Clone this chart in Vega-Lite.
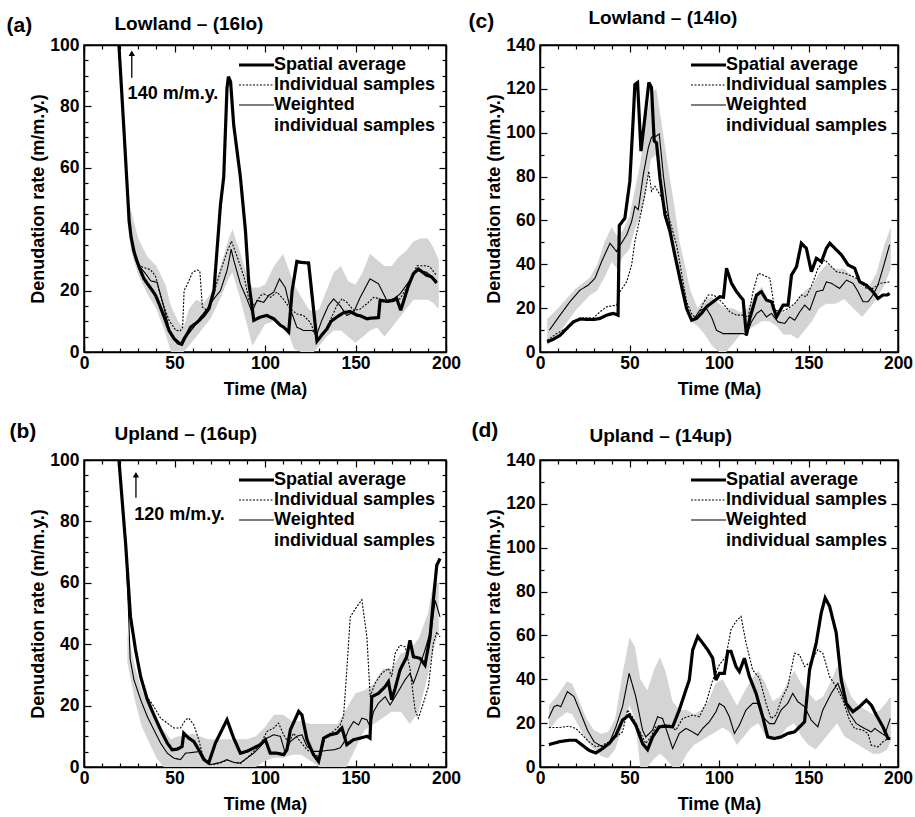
{
"$schema": "https://vega.github.io/schema/vega-lite/v6.json",
"background": "white",
"padding": {"left": 5, "top": 7, "right": 0, "bottom": 5},
"config": {
  "view": {"stroke": "black", "strokeWidth": 1.5},
  "font": "Liberation Sans",
  "axis": {"grid": false, "domainColor": "black", "domainWidth": 1.5, "tickColor": "black", "tickWidth": 1.2, "labelColor": "black", "titleColor": "black", "labelFont": "Liberation Sans", "titleFont": "Liberation Sans", "labelFontSize": 17.5, "titleFontSize": 18, "labelFontWeight": "bold", "titleFontWeight": "bold", "labelFlush": false, "labelOverlap": false},
  "legend": {"orient": "top-right", "offset": 10, "padding": 0, "titleOrient": "bottom", "titleAnchor": "end", "titleFont": "Liberation Sans", "titleFontSize": 18, "titleFontWeight": "bold", "titleColor": "black", "titlePadding": 2, "titleLimit": 400, "labelFont": "Liberation Sans", "labelFontSize": 18, "labelFontWeight": "bold", "labelColor": "black", "labelLimit": 400, "labelOffset": -2, "symbolType": "stroke", "symbolSize": 1225, "symbolStrokeColor": "black", "clipHeight": 20, "rowPadding": 0}
},
"datasets": {
"a_lines": [
{"series":"S","time":19.3,"rate":100},{"series":"S","time":22.2,"rate":71},{"series":"S","time":24.9,"rate":43},{"series":"S","time":26,"rate":37.5},{"series":"S","time":27.5,"rate":33},{"series":"S","time":29,"rate":30},{"series":"S","time":30.5,"rate":27.6},{"series":"S","time":33,"rate":24},{"series":"S","time":35.1,"rate":22.2},{"series":"S","time":37.8,"rate":20},{"series":"S","time":39.5,"rate":18.5},{"series":"S","time":41.5,"rate":15.7},{"series":"S","time":44.3,"rate":11.4},{"series":"S","time":47,"rate":7},{"series":"S","time":49.8,"rate":4.3},{"series":"S","time":52.5,"rate":2.9},{"series":"S","time":54,"rate":2.6},{"series":"S","time":55.3,"rate":4.3},{"series":"S","time":57.1,"rate":6},{"series":"S","time":59,"rate":8.1},{"series":"S","time":62.6,"rate":9.7},{"series":"S","time":66.3,"rate":11.9},{"series":"S","time":69,"rate":14.1},{"series":"S","time":71.8,"rate":20},{"series":"S","time":75.4,"rate":48},{"series":"S","time":77.2,"rate":57},{"series":"S","time":79,"rate":86},{"series":"S","time":79.8,"rate":89.7},{"series":"S","time":81,"rate":88},{"series":"S","time":82.7,"rate":74},{"series":"S","time":86.4,"rate":57},{"series":"S","time":89.2,"rate":39.5},{"series":"S","time":91,"rate":23},{"series":"S","time":93.8,"rate":10.3},{"series":"S","time":97.5,"rate":11.4},{"series":"S","time":101,"rate":11.9},{"series":"S","time":104.9,"rate":10.8},{"series":"S","time":108.5,"rate":8.7},{"series":"S","time":110.5,"rate":8},{"series":"S","time":113.1,"rate":6.5},{"series":"S","time":115,"rate":20},{"series":"S","time":117.6,"rate":29.5},{"series":"S","time":119.5,"rate":29.2},{"series":"S","time":124.1,"rate":29},{"series":"S","time":128.7,"rate":3.5},{"series":"S","time":132,"rate":6},{"series":"S","time":134.2,"rate":7.5},{"series":"S","time":136.5,"rate":10},{"series":"S","time":139.7,"rate":11.4},{"series":"S","time":143.4,"rate":12.8},{"series":"S","time":147,"rate":13.2},{"series":"S","time":150.8,"rate":12},{"series":"S","time":152.6,"rate":11.8},{"series":"S","time":156.3,"rate":10.8},{"series":"S","time":158,"rate":11},{"series":"S","time":162.7,"rate":11.2},{"series":"S","time":163.6,"rate":16.8},{"series":"S","time":168,"rate":16.5},{"series":"S","time":171,"rate":16.8},{"series":"S","time":172.7,"rate":17.5},{"series":"S","time":175,"rate":13.6},{"series":"S","time":179.2,"rate":21.5},{"series":"S","time":182,"rate":25.5},{"series":"S","time":184.7,"rate":27},{"series":"S","time":186,"rate":26.5},{"series":"S","time":189.3,"rate":25},{"series":"S","time":192,"rate":24.5},{"series":"S","time":194.8,"rate":22.5},
{"series":"I","time":19.3,"rate":100},{"series":"I","time":22.2,"rate":71},{"series":"I","time":24.9,"rate":43},{"series":"I","time":26,"rate":37},{"series":"I","time":28,"rate":32},{"series":"I","time":30.5,"rate":28.5},{"series":"I","time":32.3,"rate":27.6},{"series":"I","time":36,"rate":27},{"series":"I","time":38,"rate":26},{"series":"I","time":39.7,"rate":24.4},{"series":"I","time":41.5,"rate":20},{"series":"I","time":44.3,"rate":14.6},{"series":"I","time":47,"rate":10.3},{"series":"I","time":50.7,"rate":7.1},{"series":"I","time":53,"rate":6.8},{"series":"I","time":54.5,"rate":8},{"series":"I","time":55.3,"rate":20},{"series":"I","time":57.1,"rate":22},{"series":"I","time":59.9,"rate":25.9},{"series":"I","time":62.6,"rate":26.7},{"series":"I","time":64,"rate":26.4},{"series":"I","time":65.4,"rate":14.6},{"series":"I","time":68.2,"rate":13.5},{"series":"I","time":70,"rate":15.7},{"series":"I","time":72.7,"rate":21},{"series":"I","time":75.4,"rate":26.4},{"series":"I","time":79.2,"rate":32.9},{"series":"I","time":81.5,"rate":36.1},{"series":"I","time":84.8,"rate":30.7},{"series":"I","time":88.5,"rate":24.3},{"series":"I","time":91.2,"rate":16.8},{"series":"I","time":94,"rate":15.2},{"series":"I","time":97.6,"rate":18.4},{"series":"I","time":99.3,"rate":18.9},{"series":"I","time":103,"rate":17.8},{"series":"I","time":106.6,"rate":19.5},{"series":"I","time":110,"rate":17.3},{"series":"I","time":114,"rate":14},{"series":"I","time":117.6,"rate":12.4},{"series":"I","time":121.3,"rate":11.9},{"series":"I","time":125,"rate":9.7},{"series":"I","time":128.7,"rate":4.3},{"series":"I","time":132.4,"rate":5.9},{"series":"I","time":136,"rate":10.3},{"series":"I","time":139.7,"rate":15.1},{"series":"I","time":142.5,"rate":17.3},{"series":"I","time":145.2,"rate":16.2},{"series":"I","time":149,"rate":13.5},{"series":"I","time":152.6,"rate":14},{"series":"I","time":156.3,"rate":15.7},{"series":"I","time":160,"rate":17.8},{"series":"I","time":163.6,"rate":17.3},{"series":"I","time":167.3,"rate":16.2},{"series":"I","time":171,"rate":17.3},{"series":"I","time":174.6,"rate":17.3},{"series":"I","time":178.3,"rate":21},{"series":"I","time":184,"rate":28.1},{"series":"I","time":188.4,"rate":28.1},{"series":"I","time":191,"rate":27.8},{"series":"I","time":194.8,"rate":24.9},
{"series":"W","time":19.3,"rate":100},{"series":"W","time":22.2,"rate":71},{"series":"W","time":24.9,"rate":43},{"series":"W","time":26,"rate":37},{"series":"W","time":28,"rate":32},{"series":"W","time":30.5,"rate":28},{"series":"W","time":34.3,"rate":25.3},{"series":"W","time":36.8,"rate":23.2},{"series":"W","time":40.4,"rate":22.7},{"series":"W","time":44.1,"rate":14.6},{"series":"W","time":47.8,"rate":5.9},{"series":"W","time":51.5,"rate":2.7},{"series":"W","time":54.2,"rate":2.2},{"series":"W","time":57,"rate":5.4},{"series":"W","time":60.7,"rate":8.1},{"series":"W","time":64.3,"rate":11.4},{"series":"W","time":68,"rate":14},{"series":"W","time":71.7,"rate":17.3},{"series":"W","time":75.4,"rate":20},{"series":"W","time":79,"rate":26.5},{"series":"W","time":80.2,"rate":30},{"series":"W","time":81.3,"rate":33.5},{"series":"W","time":82.7,"rate":30},{"series":"W","time":86.4,"rate":22.2},{"series":"W","time":90,"rate":17.3},{"series":"W","time":92.8,"rate":13},{"series":"W","time":95.6,"rate":16.8},{"series":"W","time":99.3,"rate":16.2},{"series":"W","time":102,"rate":18.4},{"series":"W","time":104.8,"rate":19.5},{"series":"W","time":108,"rate":23.8},{"series":"W","time":111.2,"rate":21},{"series":"W","time":114,"rate":14},{"series":"W","time":117.6,"rate":8.1},{"series":"W","time":121.3,"rate":7},{"series":"W","time":126,"rate":7},{"series":"W","time":128.7,"rate":5.9},{"series":"W","time":131.4,"rate":10.3},{"series":"W","time":135,"rate":15.1},{"series":"W","time":137.9,"rate":17.3},{"series":"W","time":141.5,"rate":15.1},{"series":"W","time":145.2,"rate":11.9},{"series":"W","time":149,"rate":13},{"series":"W","time":152.6,"rate":17.8},{"series":"W","time":158,"rate":23.8},{"series":"W","time":162.7,"rate":22.2},{"series":"W","time":167.3,"rate":16.8},{"series":"W","time":171,"rate":17.3},{"series":"W","time":174.6,"rate":18.9},{"series":"W","time":179.2,"rate":22.7},{"series":"W","time":183.8,"rate":26.5},{"series":"W","time":189.3,"rate":26},{"series":"W","time":194.8,"rate":23.2}
],
"a_band": [
{"time":24,"low":42,"high":52},{"time":26,"low":33,"high":46},{"time":30,"low":25,"high":37},{"time":35,"low":19,"high":31},{"time":40,"low":14,"high":28},{"time":45,"low":6,"high":22},{"time":48,"low":0,"high":15},{"time":52,"low":0,"high":10},{"time":55,"low":0,"high":8},{"time":58,"low":2,"high":14},{"time":62,"low":5,"high":17},{"time":66,"low":8,"high":16},{"time":70,"low":11,"high":19},{"time":75,"low":17,"high":27},{"time":80,"low":24,"high":37},{"time":82,"low":26,"high":40},{"time":86,"low":18,"high":33},{"time":90,"low":9,"high":25},{"time":93,"low":2,"high":21},{"time":97,"low":6,"high":21},{"time":100,"low":9,"high":22},{"time":105,"low":10,"high":28},{"time":110,"low":9,"high":32},{"time":113,"low":6,"high":27},{"time":116,"low":1,"high":22},{"time":120,"low":0,"high":18},{"time":124,"low":0,"high":14},{"time":127,"low":0,"high":13},{"time":130,"low":2,"high":14},{"time":134,"low":5,"high":20},{"time":138,"low":7,"high":26},{"time":142,"low":7,"high":28},{"time":146,"low":5,"high":23},{"time":150,"low":3,"high":22},{"time":154,"low":5,"high":26},{"time":158,"low":7,"high":32},{"time":162,"low":8,"high":30},{"time":166,"low":5,"high":28},{"time":170,"low":8,"high":28},{"time":174,"low":11,"high":31},{"time":178,"low":14,"high":33},{"time":182,"low":17,"high":36},{"time":186,"low":17,"high":37},{"time":190,"low":17,"high":37},{"time":193,"low":16,"high":34},{"time":196,"low":14,"high":30}
],
"b_lines": [
{"series":"S","time":19.3,"rate":100},{"series":"S","time":23,"rate":72.7},{"series":"S","time":25.7,"rate":48.9},{"series":"S","time":28.5,"rate":38.1},{"series":"S","time":31.3,"rate":29.4},{"series":"S","time":34.9,"rate":22.1},{"series":"S","time":38.6,"rate":17},{"series":"S","time":42.3,"rate":12.1},{"series":"S","time":46,"rate":7.8},{"series":"S","time":48.7,"rate":5.6},{"series":"S","time":51.5,"rate":5.8},{"series":"S","time":54.2,"rate":6.7},{"series":"S","time":55.1,"rate":11},{"series":"S","time":57.9,"rate":9.4},{"series":"S","time":60.7,"rate":8.3},{"series":"S","time":63.4,"rate":5.6},{"series":"S","time":66.2,"rate":2.4},{"series":"S","time":68.9,"rate":1.3},{"series":"S","time":72.6,"rate":7.8},{"series":"S","time":79,"rate":15.4},{"series":"S","time":82.7,"rate":9.4},{"series":"S","time":86.4,"rate":4.5},{"series":"S","time":90,"rate":5.1},{"series":"S","time":93.8,"rate":6.2},{"series":"S","time":97.4,"rate":7.3},{"series":"S","time":100.2,"rate":8.9},{"series":"S","time":102.9,"rate":4.5},{"series":"S","time":106.6,"rate":4.5},{"series":"S","time":110.3,"rate":4},{"series":"S","time":112.1,"rate":5.6},{"series":"S","time":114,"rate":12.1},{"series":"S","time":118.6,"rate":18.1},{"series":"S","time":120.4,"rate":17},{"series":"S","time":123.2,"rate":8.9},{"series":"S","time":126.8,"rate":4},{"series":"S","time":129.6,"rate":1.8},{"series":"S","time":132.4,"rate":9.4},{"series":"S","time":136,"rate":10.5},{"series":"S","time":139.7,"rate":11},{"series":"S","time":142.5,"rate":12.7},{"series":"S","time":145.2,"rate":7.3},{"series":"S","time":148.9,"rate":8.9},{"series":"S","time":152.6,"rate":9.4},{"series":"S","time":156.3,"rate":10},{"series":"S","time":158,"rate":9.4},{"series":"S","time":159,"rate":22.9},{"series":"S","time":162.7,"rate":24},{"series":"S","time":166.4,"rate":26.2},{"series":"S","time":168.2,"rate":27.8},{"series":"S","time":170,"rate":21.9},{"series":"S","time":171.9,"rate":25.6},{"series":"S","time":174.6,"rate":31.6},{"series":"S","time":178.3,"rate":35.9},{"series":"S","time":180.1,"rate":41.3},{"series":"S","time":182,"rate":35.9},{"series":"S","time":185.7,"rate":35.4},{"series":"S","time":188.4,"rate":33.2},{"series":"S","time":191.2,"rate":42.4},{"series":"S","time":193,"rate":54.3},{"series":"S","time":194.9,"rate":65.7},{"series":"S","time":196.7,"rate":67.9},
{"series":"I","time":19.3,"rate":100},{"series":"I","time":23,"rate":72},{"series":"I","time":25.7,"rate":49},{"series":"I","time":28.5,"rate":38},{"series":"I","time":31.3,"rate":30},{"series":"I","time":34.9,"rate":22.9},{"series":"I","time":38.6,"rate":19.7},{"series":"I","time":42.3,"rate":15.9},{"series":"I","time":46,"rate":14.3},{"series":"I","time":49.6,"rate":12.7},{"series":"I","time":53.3,"rate":12.7},{"series":"I","time":56.1,"rate":15.4},{"series":"I","time":57.9,"rate":15.9},{"series":"I","time":60.7,"rate":13.7},{"series":"I","time":63.4,"rate":8.9},{"series":"I","time":66.2,"rate":2.4},{"series":"I","time":68.9,"rate":0.8},{"series":"I","time":71.7,"rate":0.8},{"series":"I","time":75.4,"rate":1.3},{"series":"I","time":79,"rate":2.2},{"series":"I","time":82.7,"rate":1.5},{"series":"I","time":86.4,"rate":1.1},{"series":"I","time":90,"rate":2.9},{"series":"I","time":93.8,"rate":5.1},{"series":"I","time":97.4,"rate":7.3},{"series":"I","time":101.1,"rate":11.6},{"series":"I","time":104.8,"rate":12.7},{"series":"I","time":107.5,"rate":14.3},{"series":"I","time":110.3,"rate":10.5},{"series":"I","time":113,"rate":7.8},{"series":"I","time":115.8,"rate":11},{"series":"I","time":119.5,"rate":8.3},{"series":"I","time":123.2,"rate":5.6},{"series":"I","time":126.8,"rate":4.5},{"series":"I","time":130.5,"rate":2.9},{"series":"I","time":133.3,"rate":10},{"series":"I","time":137.9,"rate":11.6},{"series":"I","time":141.5,"rate":13.7},{"series":"I","time":143.4,"rate":16.5},{"series":"I","time":145.2,"rate":31.6},{"series":"I","time":147.1,"rate":48.9},{"series":"I","time":150.7,"rate":52.2},{"series":"I","time":153.5,"rate":54.5},{"series":"I","time":156.3,"rate":42.4},{"series":"I","time":158.1,"rate":22.9},{"series":"I","time":160.8,"rate":27.3},{"series":"I","time":164.5,"rate":30.5},{"series":"I","time":168.2,"rate":32.1},{"series":"I","time":170,"rate":29.4},{"series":"I","time":171.9,"rate":37},{"series":"I","time":174.6,"rate":39.7},{"series":"I","time":177.4,"rate":39.2},{"series":"I","time":180.1,"rate":32.1},{"series":"I","time":182.9,"rate":18.6},{"series":"I","time":184.7,"rate":15.9},{"series":"I","time":187.5,"rate":20.8},{"series":"I","time":190.3,"rate":26.2},{"series":"I","time":193,"rate":40.3},{"series":"I","time":194.9,"rate":44},{"series":"I","time":196.7,"rate":42.4},
{"series":"W","time":19.3,"rate":100},{"series":"W","time":23,"rate":72},{"series":"W","time":24.5,"rate":52},{"series":"W","time":25.5,"rate":35.2},{"series":"W","time":27.6,"rate":28.4},{"series":"W","time":31.3,"rate":21.9},{"series":"W","time":34.9,"rate":16.5},{"series":"W","time":38.6,"rate":12.1},{"series":"W","time":42.3,"rate":7.8},{"series":"W","time":46,"rate":4.5},{"series":"W","time":49.6,"rate":2.9},{"series":"W","time":53.3,"rate":2.4},{"series":"W","time":56.1,"rate":4.5},{"series":"W","time":60.7,"rate":4.8},{"series":"W","time":64.3,"rate":5.1},{"series":"W","time":67.1,"rate":2.4},{"series":"W","time":69.9,"rate":0.8},{"series":"W","time":75.4,"rate":1.5},{"series":"W","time":79,"rate":2.4},{"series":"W","time":82.7,"rate":1.5},{"series":"W","time":86.4,"rate":1.3},{"series":"W","time":90,"rate":2.9},{"series":"W","time":93.8,"rate":4.5},{"series":"W","time":97.4,"rate":6.7},{"series":"W","time":101.1,"rate":9.4},{"series":"W","time":104.8,"rate":10.5},{"series":"W","time":108.5,"rate":10},{"series":"W","time":111.2,"rate":4.5},{"series":"W","time":114,"rate":8.3},{"series":"W","time":117.6,"rate":10},{"series":"W","time":120.4,"rate":10.5},{"series":"W","time":123.2,"rate":6.7},{"series":"W","time":126.8,"rate":5.1},{"series":"W","time":130.5,"rate":5.1},{"series":"W","time":134.2,"rate":5.4},{"series":"W","time":137.9,"rate":5.6},{"series":"W","time":141.5,"rate":6.2},{"series":"W","time":143.4,"rate":7.8},{"series":"W","time":146.1,"rate":12.1},{"series":"W","time":148.9,"rate":14.8},{"series":"W","time":151.7,"rate":13.7},{"series":"W","time":153.5,"rate":15.9},{"series":"W","time":156.3,"rate":15.4},{"series":"W","time":158,"rate":13.2},{"series":"W","time":160,"rate":18.1},{"series":"W","time":162.7,"rate":20.8},{"series":"W","time":166.4,"rate":22.9},{"series":"W","time":169.1,"rate":20.2},{"series":"W","time":171.9,"rate":22.9},{"series":"W","time":174.6,"rate":25.6},{"series":"W","time":177.4,"rate":28.4},{"series":"W","time":180.1,"rate":30.5},{"series":"W","time":182,"rate":27.3},{"series":"W","time":184.7,"rate":31.6},{"series":"W","time":188.4,"rate":38.1},{"series":"W","time":192.1,"rate":45.7},{"series":"W","time":194,"rate":54.3},{"series":"W","time":196.7,"rate":48.9}
],
"b_band": [
{"time":24,"low":34,"high":44},{"time":28,"low":22,"high":33},{"time":32,"low":13,"high":25},{"time":36,"low":8,"high":20},{"time":40,"low":3,"high":16},{"time":44,"low":0,"high":12},{"time":48,"low":0,"high":9},{"time":52,"low":0,"high":10},{"time":56,"low":0,"high":10},{"time":60,"low":0,"high":11},{"time":64,"low":0,"high":10},{"time":68,"low":0,"high":9},{"time":72,"low":0,"high":9},{"time":80,"low":0,"high":9},{"time":90,"low":0,"high":9},{"time":95,"low":0,"high":10},{"time":100,"low":2,"high":13},{"time":105,"low":3,"high":17},{"time":110,"low":3,"high":17},{"time":115,"low":4,"high":15},{"time":120,"low":4,"high":15},{"time":125,"low":2,"high":14},{"time":130,"low":0,"high":14},{"time":135,"low":0,"high":14},{"time":140,"low":0,"high":14},{"time":145,"low":0,"high":19},{"time":150,"low":6,"high":24},{"time":155,"low":12,"high":25},{"time":160,"low":14,"high":27},{"time":165,"low":16,"high":32},{"time":170,"low":18,"high":32},{"time":175,"low":18,"high":37},{"time":180,"low":14,"high":38},{"time":185,"low":18,"high":42},{"time":190,"low":30,"high":50},{"time":193,"low":38,"high":60},{"time":196,"low":44,"high":60}
],
"c_lines": [
{"series":"S","time":4,"rate":4.6},{"series":"S","time":7.4,"rate":5.8},{"series":"S","time":11.2,"rate":7.6},{"series":"S","time":14.9,"rate":10.7},{"series":"S","time":18.6,"rate":13.7},{"series":"S","time":22.3,"rate":15},{"series":"S","time":29.8,"rate":14.8},{"series":"S","time":33.5,"rate":15.3},{"series":"S","time":37.2,"rate":16.8},{"series":"S","time":40.9,"rate":17.6},{"series":"S","time":43.6,"rate":16.8},{"series":"S","time":44.3,"rate":57.7},{"series":"S","time":47.4,"rate":61},{"series":"S","time":50.2,"rate":77.9},{"series":"S","time":52.1,"rate":106.9},{"series":"S","time":53,"rate":122},{"series":"S","time":54.5,"rate":122.9},{"series":"S","time":56.4,"rate":91.6},{"series":"S","time":58.6,"rate":106.9},{"series":"S","time":60.8,"rate":122.9},{"series":"S","time":62.3,"rate":120.6},{"series":"S","time":63.8,"rate":96.2},{"series":"S","time":65.1,"rate":95.4},{"series":"S","time":67,"rate":79.4},{"series":"S","time":69.8,"rate":62.6},{"series":"S","time":72.6,"rate":55},{"series":"S","time":75.3,"rate":44.3},{"series":"S","time":78.1,"rate":33.6},{"series":"S","time":81.9,"rate":19.8},{"series":"S","time":84.7,"rate":14.5},{"series":"S","time":87.4,"rate":15.3},{"series":"S","time":90.2,"rate":17.6},{"series":"S","time":93,"rate":20.6},{"series":"S","time":96.7,"rate":22.9},{"series":"S","time":100.5,"rate":25.2},{"series":"S","time":102.5,"rate":25},{"series":"S","time":104.2,"rate":38.2},{"series":"S","time":107,"rate":31.3},{"series":"S","time":109.8,"rate":27.5},{"series":"S","time":113.5,"rate":23.7},{"series":"S","time":115.3,"rate":7.6},{"series":"S","time":117.2,"rate":15.3},{"series":"S","time":121,"rate":26},{"series":"S","time":123.7,"rate":27.5},{"series":"S","time":126.5,"rate":23.7},{"series":"S","time":129.3,"rate":22.9},{"series":"S","time":132.1,"rate":16},{"series":"S","time":135.8,"rate":21.4},{"series":"S","time":138.6,"rate":21.4},{"series":"S","time":140.5,"rate":35.1},{"series":"S","time":143.3,"rate":38.9},{"series":"S","time":146,"rate":49.6},{"series":"S","time":148.8,"rate":47.3},{"series":"S","time":151.6,"rate":36.6},{"series":"S","time":154.4,"rate":42.7},{"series":"S","time":157.2,"rate":41.2},{"series":"S","time":160,"rate":47.3},{"series":"S","time":161.9,"rate":49.6},{"series":"S","time":164.7,"rate":47.3},{"series":"S","time":168.4,"rate":44.3},{"series":"S","time":172.1,"rate":39.7},{"series":"S","time":175.8,"rate":38.2},{"series":"S","time":178.6,"rate":32},{"series":"S","time":182.3,"rate":30.5},{"series":"S","time":186,"rate":27.5},{"series":"S","time":188.8,"rate":24.4},{"series":"S","time":191.6,"rate":26},{"series":"S","time":194,"rate":26},{"series":"S","time":195.3,"rate":26.7},
{"series":"I","time":4,"rate":5.3},{"series":"I","time":9.3,"rate":8.4},{"series":"I","time":14.9,"rate":11},{"series":"I","time":18.6,"rate":14},{"series":"I","time":22.3,"rate":15.5},{"series":"I","time":29.8,"rate":15.5},{"series":"I","time":33.5,"rate":18.3},{"series":"I","time":37.2,"rate":20.6},{"series":"I","time":42.8,"rate":21.4},{"series":"I","time":44.7,"rate":27.5},{"series":"I","time":48.4,"rate":32},{"series":"I","time":51.2,"rate":39.7},{"series":"I","time":53,"rate":50.4},{"series":"I","time":55.8,"rate":61},{"series":"I","time":58.6,"rate":71.8},{"series":"I","time":60.8,"rate":82.4},{"series":"I","time":62.3,"rate":73.3},{"series":"I","time":64.2,"rate":75.6},{"series":"I","time":67,"rate":71.8},{"series":"I","time":69.8,"rate":65.6},{"series":"I","time":72.6,"rate":59.5},{"series":"I","time":76.3,"rate":48.9},{"series":"I","time":81.9,"rate":22.9},{"series":"I","time":85,"rate":17},{"series":"I","time":88,"rate":15},{"series":"I","time":91,"rate":22},{"series":"I","time":94,"rate":26},{"series":"I","time":97,"rate":26},{"series":"I","time":100,"rate":24},{"series":"I","time":102.3,"rate":22.1},{"series":"I","time":106,"rate":18.3},{"series":"I","time":109.8,"rate":16.8},{"series":"I","time":113.5,"rate":16.8},{"series":"I","time":116.3,"rate":16},{"series":"I","time":119,"rate":27.5},{"series":"I","time":121.9,"rate":35.9},{"series":"I","time":124.7,"rate":35.1},{"series":"I","time":128.4,"rate":33.6},{"series":"I","time":131.2,"rate":19.1},{"series":"I","time":134.9,"rate":18.3},{"series":"I","time":138.6,"rate":19.8},{"series":"I","time":142.3,"rate":22.1},{"series":"I","time":146,"rate":26},{"series":"I","time":148.8,"rate":25.2},{"series":"I","time":152.6,"rate":32},{"series":"I","time":155.3,"rate":38.2},{"series":"I","time":159.1,"rate":42},{"series":"I","time":161.9,"rate":39.7},{"series":"I","time":165.6,"rate":36.6},{"series":"I","time":170.2,"rate":35.9},{"series":"I","time":174.9,"rate":34.4},{"series":"I","time":178.6,"rate":32.8},{"series":"I","time":182.3,"rate":29},{"series":"I","time":186,"rate":29},{"series":"I","time":189.8,"rate":31.3},{"series":"I","time":195.3,"rate":32},
{"series":"W","time":5.2,"rate":9.9},{"series":"W","time":11.2,"rate":16.8},{"series":"W","time":16.7,"rate":22.9},{"series":"W","time":22.3,"rate":28.2},{"series":"W","time":27,"rate":30.5},{"series":"W","time":30.7,"rate":33.6},{"series":"W","time":34.4,"rate":41.2},{"series":"W","time":39.1,"rate":49.6},{"series":"W","time":42.8,"rate":45.8},{"series":"W","time":44.3,"rate":48.1},{"series":"W","time":48.4,"rate":53.4},{"series":"W","time":51.2,"rate":59.5},{"series":"W","time":53,"rate":66.4},{"series":"W","time":54.9,"rate":64.9},{"series":"W","time":57.7,"rate":80.9},{"series":"W","time":60.5,"rate":93.1},{"series":"W","time":62.3,"rate":98},{"series":"W","time":65.1,"rate":98.5},{"series":"W","time":66.6,"rate":99.5},{"series":"W","time":69,"rate":80},{"series":"W","time":72.3,"rate":59},{"series":"W","time":75.3,"rate":45},{"series":"W","time":78.1,"rate":35},{"series":"W","time":82.8,"rate":17.6},{"series":"W","time":85.6,"rate":14.5},{"series":"W","time":89.3,"rate":19.1},{"series":"W","time":93,"rate":19.8},{"series":"W","time":95.8,"rate":16},{"series":"W","time":98.6,"rate":9.9},{"series":"W","time":102.3,"rate":8.4},{"series":"W","time":107.9,"rate":8.4},{"series":"W","time":113.5,"rate":8.4},{"series":"W","time":115.3,"rate":7.6},{"series":"W","time":118.1,"rate":13.7},{"series":"W","time":121,"rate":17.6},{"series":"W","time":123.7,"rate":19.1},{"series":"W","time":126.5,"rate":16},{"series":"W","time":129.3,"rate":17.6},{"series":"W","time":133,"rate":13.7},{"series":"W","time":136.7,"rate":13},{"series":"W","time":139.5,"rate":16},{"series":"W","time":142.3,"rate":14.5},{"series":"W","time":145.1,"rate":18.3},{"series":"W","time":147.9,"rate":21.4},{"series":"W","time":150.7,"rate":19.1},{"series":"W","time":154.4,"rate":27.5},{"series":"W","time":158.1,"rate":28.2},{"series":"W","time":160,"rate":32},{"series":"W","time":162.8,"rate":31.3},{"series":"W","time":167.4,"rate":29},{"series":"W","time":171.2,"rate":32.8},{"series":"W","time":174.9,"rate":31.3},{"series":"W","time":177.7,"rate":27.5},{"series":"W","time":180.5,"rate":22.9},{"series":"W","time":183.3,"rate":22.9},{"series":"W","time":186,"rate":26},{"series":"W","time":188.8,"rate":30.5},{"series":"W","time":191.6,"rate":38.2},{"series":"W","time":195.3,"rate":48.9}
],
"c_band": [
{"time":4,"low":3,"high":15},{"time":10,"low":8,"high":20},{"time":20,"low":19,"high":29},{"time":28,"low":26,"high":34},{"time":32,"low":28,"high":40},{"time":36,"low":34,"high":50},{"time":40,"low":41,"high":57},{"time":43,"low":38,"high":53},{"time":46,"low":43,"high":55},{"time":50,"low":47,"high":62},{"time":53,"low":56,"high":74},{"time":56,"low":62,"high":86},{"time":59,"low":72,"high":105},{"time":62,"low":88,"high":118},{"time":65,"low":90,"high":120},{"time":68,"low":76,"high":104},{"time":72,"low":58,"high":82},{"time":75,"low":48,"high":67},{"time":78,"low":36,"high":50},{"time":80,"low":30,"high":43},{"time":84,"low":14,"high":28},{"time":88,"low":12,"high":20},{"time":92,"low":8,"high":24},{"time":96,"low":3,"high":25},{"time":100,"low":0,"high":22},{"time":104,"low":0,"high":20},{"time":108,"low":4,"high":20},{"time":112,"low":8,"high":18},{"time":116,"low":10,"high":20},{"time":120,"low":12,"high":26},{"time":124,"low":14,"high":30},{"time":128,"low":14,"high":22},{"time":132,"low":12,"high":18},{"time":136,"low":8,"high":18},{"time":140,"low":8,"high":20},{"time":144,"low":6,"high":24},{"time":148,"low":10,"high":28},{"time":152,"low":14,"high":30},{"time":156,"low":20,"high":36},{"time":160,"low":22,"high":40},{"time":165,"low":22,"high":38},{"time":170,"low":24,"high":38},{"time":175,"low":20,"high":34},{"time":180,"low":16,"high":32},{"time":184,"low":20,"high":30},{"time":188,"low":24,"high":36},{"time":192,"low":30,"high":48},{"time":196,"low":38,"high":57}
],
"d_lines": [
{"series":"S","time":5,"rate":10.2},{"series":"S","time":10.6,"rate":11.5},{"series":"S","time":16.2,"rate":12.2},{"series":"S","time":20,"rate":12.2},{"series":"S","time":23.7,"rate":9.9},{"series":"S","time":27.4,"rate":7.6},{"series":"S","time":31.2,"rate":6.4},{"series":"S","time":34.9,"rate":8.4},{"series":"S","time":38.6,"rate":10.7},{"series":"S","time":42.4,"rate":14.5},{"series":"S","time":46.1,"rate":21.4},{"series":"S","time":49.8,"rate":23.7},{"series":"S","time":53.5,"rate":19.1},{"series":"S","time":57.3,"rate":10.7},{"series":"S","time":60.1,"rate":7.9},{"series":"S","time":62.9,"rate":13.7},{"series":"S","time":66.6,"rate":18.3},{"series":"S","time":70.3,"rate":18.6},{"series":"S","time":74.1,"rate":18.3},{"series":"S","time":77.8,"rate":26},{"series":"S","time":81.5,"rate":35.1},{"series":"S","time":83.4,"rate":39.7},{"series":"S","time":85.3,"rate":53.4},{"series":"S","time":88.1,"rate":59.5},{"series":"S","time":90.9,"rate":56.5},{"series":"S","time":93.7,"rate":53.4},{"series":"S","time":96.5,"rate":49.6},{"series":"S","time":98.3,"rate":39.7},{"series":"S","time":100.2,"rate":42.7},{"series":"S","time":103,"rate":42.7},{"series":"S","time":104.9,"rate":52.7},{"series":"S","time":106.7,"rate":52.7},{"series":"S","time":109.5,"rate":45.8},{"series":"S","time":111.4,"rate":43.5},{"series":"S","time":114.2,"rate":49.6},{"series":"S","time":117,"rate":41.2},{"series":"S","time":120.7,"rate":33.6},{"series":"S","time":124.4,"rate":22.9},{"series":"S","time":127.2,"rate":13.7},{"series":"S","time":131,"rate":13},{"series":"S","time":134.7,"rate":13.7},{"series":"S","time":138.4,"rate":15.3},{"series":"S","time":142.2,"rate":16},{"series":"S","time":145,"rate":18.3},{"series":"S","time":147.8,"rate":20.6},{"series":"S","time":150.6,"rate":44.3},{"series":"S","time":154.3,"rate":56.5},{"series":"S","time":157.1,"rate":70.2},{"series":"S","time":159.3,"rate":77.1},{"series":"S","time":161.8,"rate":73.3},{"series":"S","time":165.5,"rate":61.1},{"series":"S","time":168.3,"rate":39.7},{"series":"S","time":171.1,"rate":29},{"series":"S","time":174.8,"rate":25.2},{"series":"S","time":178.5,"rate":27.5},{"series":"S","time":182.3,"rate":30.5},{"series":"S","time":185.1,"rate":28.2},{"series":"S","time":187.9,"rate":23.7},{"series":"S","time":191.6,"rate":18.3},{"series":"S","time":194.4,"rate":13},{"series":"S","time":195.7,"rate":13},
{"series":"I","time":5,"rate":18},{"series":"I","time":10.6,"rate":18},{"series":"I","time":16.2,"rate":18.6},{"series":"I","time":20,"rate":17.6},{"series":"I","time":23.7,"rate":14.5},{"series":"I","time":27.4,"rate":11.5},{"series":"I","time":31.2,"rate":9.2},{"series":"I","time":34.9,"rate":9.9},{"series":"I","time":38.6,"rate":11.5},{"series":"I","time":42.4,"rate":13.7},{"series":"I","time":46.1,"rate":16},{"series":"I","time":48.9,"rate":26},{"series":"I","time":51.7,"rate":22.9},{"series":"I","time":55.4,"rate":16.8},{"series":"I","time":59.1,"rate":10.7},{"series":"I","time":61.9,"rate":13.7},{"series":"I","time":64.7,"rate":18.3},{"series":"I","time":68.5,"rate":19.1},{"series":"I","time":72.2,"rate":19.1},{"series":"I","time":75.9,"rate":16.8},{"series":"I","time":79.7,"rate":22.1},{"series":"I","time":85.3,"rate":23.7},{"series":"I","time":89,"rate":22.9},{"series":"I","time":92.7,"rate":29},{"series":"I","time":96.5,"rate":39.7},{"series":"I","time":100.2,"rate":46.6},{"series":"I","time":103.9,"rate":50.4},{"series":"I","time":106.7,"rate":62.6},{"series":"I","time":109.5,"rate":66.4},{"series":"I","time":112.3,"rate":68.7},{"series":"I","time":115.1,"rate":56.5},{"series":"I","time":118.8,"rate":44.3},{"series":"I","time":122.6,"rate":40.5},{"series":"I","time":126.3,"rate":29},{"series":"I","time":129.1,"rate":22.1},{"series":"I","time":131.9,"rate":23.7},{"series":"I","time":134.7,"rate":30.5},{"series":"I","time":138.4,"rate":36.6},{"series":"I","time":142.2,"rate":51.9},{"series":"I","time":145,"rate":51.1},{"series":"I","time":147.8,"rate":45.8},{"series":"I","time":151.5,"rate":48.1},{"series":"I","time":155.2,"rate":53.4},{"series":"I","time":158,"rate":51.9},{"series":"I","time":161.8,"rate":41.2},{"series":"I","time":165.5,"rate":36.6},{"series":"I","time":169.2,"rate":30.5},{"series":"I","time":172.9,"rate":21.4},{"series":"I","time":175.7,"rate":17.6},{"series":"I","time":180.4,"rate":16.8},{"series":"I","time":183.2,"rate":15.3},{"series":"I","time":185.1,"rate":9.9},{"series":"I","time":188.8,"rate":9.2},{"series":"I","time":191.6,"rate":11.5},{"series":"I","time":195.7,"rate":13.7},
{"series":"W","time":4.7,"rate":22.1},{"series":"W","time":7.8,"rate":27.5},{"series":"W","time":9.7,"rate":28.2},{"series":"W","time":11.6,"rate":27.5},{"series":"W","time":15.3,"rate":34.4},{"series":"W","time":19,"rate":32.1},{"series":"W","time":22.8,"rate":24.4},{"series":"W","time":26.5,"rate":16.8},{"series":"W","time":30.2,"rate":11.5},{"series":"W","time":34.9,"rate":9.2},{"series":"W","time":38.6,"rate":10.7},{"series":"W","time":42.4,"rate":18.3},{"series":"W","time":46.1,"rate":27.5},{"series":"W","time":49.8,"rate":42.7},{"series":"W","time":53.5,"rate":32.1},{"series":"W","time":57.3,"rate":16.8},{"series":"W","time":59.1,"rate":13.7},{"series":"W","time":62.9,"rate":16.8},{"series":"W","time":65.7,"rate":22.9},{"series":"W","time":68.5,"rate":22.1},{"series":"W","time":71.3,"rate":15.3},{"series":"W","time":74.1,"rate":8.4},{"series":"W","time":77.8,"rate":15.3},{"series":"W","time":81.5,"rate":17.6},{"series":"W","time":85.3,"rate":16},{"series":"W","time":88.1,"rate":14.5},{"series":"W","time":90.9,"rate":17.6},{"series":"W","time":94.6,"rate":20.6},{"series":"W","time":98.3,"rate":25.2},{"series":"W","time":100.2,"rate":29},{"series":"W","time":103,"rate":27.5},{"series":"W","time":105.8,"rate":22.9},{"series":"W","time":108.6,"rate":15.3},{"series":"W","time":111.4,"rate":19.1},{"series":"W","time":115.1,"rate":26},{"series":"W","time":118.8,"rate":29},{"series":"W","time":121.6,"rate":29},{"series":"W","time":124.4,"rate":22.9},{"series":"W","time":128.2,"rate":19.8},{"series":"W","time":131,"rate":19.8},{"series":"W","time":134.7,"rate":26},{"series":"W","time":138.4,"rate":29},{"series":"W","time":141.2,"rate":33.6},{"series":"W","time":144,"rate":29.8},{"series":"W","time":147.8,"rate":27.5},{"series":"W","time":151.5,"rate":21.4},{"series":"W","time":155.2,"rate":18.3},{"series":"W","time":158,"rate":26},{"series":"W","time":162.7,"rate":33.6},{"series":"W","time":166.4,"rate":38.2},{"series":"W","time":169.2,"rate":32.1},{"series":"W","time":172.9,"rate":24.4},{"series":"W","time":176.7,"rate":19.8},{"series":"W","time":181.3,"rate":17.6},{"series":"W","time":185.1,"rate":16},{"series":"W","time":187,"rate":17.6},{"series":"W","time":189.7,"rate":16},{"series":"W","time":192.5,"rate":14.5},{"series":"W","time":195.7,"rate":22.1}
],
"d_band": [
{"time":5,"low":17,"high":28},{"time":10,"low":22,"high":33},{"time":15,"low":25,"high":39},{"time":18,"low":24,"high":38},{"time":22,"low":18,"high":30},{"time":26,"low":12,"high":22},{"time":30,"low":8,"high":17},{"time":34,"low":5,"high":15},{"time":38,"low":4,"high":16},{"time":42,"low":8,"high":22},{"time":46,"low":18,"high":42},{"time":50,"low":28,"high":59},{"time":53,"low":22,"high":55},{"time":56,"low":0,"high":40},{"time":60,"low":0,"high":35},{"time":64,"low":4,"high":45},{"time":67,"low":6,"high":50},{"time":70,"low":4,"high":44},{"time":74,"low":0,"high":30},{"time":78,"low":0,"high":26},{"time":82,"low":6,"high":26},{"time":86,"low":10,"high":24},{"time":90,"low":12,"high":26},{"time":94,"low":14,"high":30},{"time":98,"low":16,"high":38},{"time":102,"low":18,"high":40},{"time":106,"low":16,"high":34},{"time":110,"low":10,"high":28},{"time":114,"low":14,"high":34},{"time":118,"low":18,"high":40},{"time":122,"low":20,"high":44},{"time":126,"low":14,"high":38},{"time":130,"low":12,"high":30},{"time":134,"low":14,"high":32},{"time":138,"low":18,"high":38},{"time":142,"low":20,"high":44},{"time":146,"low":14,"high":38},{"time":150,"low":10,"high":34},{"time":154,"low":8,"high":30},{"time":158,"low":12,"high":32},{"time":162,"low":16,"high":38},{"time":166,"low":20,"high":46},{"time":170,"low":14,"high":40},{"time":174,"low":12,"high":32},{"time":178,"low":10,"high":28},{"time":182,"low":8,"high":26},{"time":186,"low":6,"high":24},{"time":190,"low":6,"high":26},{"time":194,"low":8,"high":30},{"time":196,"low":12,"high":32}
]
},
"columns": 2,
"spacing": {"row": 18, "column": 5},
"resolve": {"scale": {"strokeWidth": "independent", "strokeDash": "independent"}, "legend": {"strokeWidth": "independent", "strokeDash": "independent"}},
"concat": [
{
 "width": 362, "height": 307,
 "resolve": {"axis": {"x": "independent", "y": "independent"}},
 "layer": [
  {"data": {"name": "a_band"}, "mark": {"type": "area", "color": "#d4d4d4"},
   "encoding": {
    "x": {"field": "time", "type": "quantitative", "scale": {"domain": [0, 200], "nice": false}, "axis": {"orient": "bottom", "values": [0, 50, 100, 150, 200], "tickSize": -7, "labelPadding": 9, "title": "Time (Ma)", "titlePadding": 9}},
    "y": {"field": "low", "type": "quantitative", "scale": {"domain": [0, 100], "nice": false}, "axis": {"orient": "left", "values": [0, 20, 40, 60, 80, 100], "tickSize": -7, "labelPadding": 12, "title": "Denudation rate (m/m.y.)", "titlePadding": 2}},
    "y2": {"field": "high"}}},
  {"data": {"name": "a_lines"}, "transform": [{"filter": "datum.series == 'W'"}], "mark": {"type": "line", "color": "black", "clip": true, "strokeMiterLimit": 3},
   "encoding": {
    "x": {"field": "time", "type": "quantitative", "axis": {"orient": "bottom", "values": [10, 20, 30, 40, 60, 70, 80, 90, 110, 120, 130, 140, 160, 170, 180, 190], "tickSize": -4, "labels": false, "domain": false, "title": null}},
    "y": {"field": "rate", "type": "quantitative", "axis": {"orient": "left", "values": [5, 10, 15, 25, 30, 35, 45, 50, 55, 65, 70, 75, 85, 90, 95], "tickSize": -4, "labels": false, "domain": false, "title": null}},
    "strokeWidth": {"field": "series", "type": "nominal", "scale": {"type": "ordinal", "domain": ["S", "I", "W"], "range": [3.2, 1.1, 1.1]}, "legend": {"title": "individual samples", "labelExpr": "datum.value == 'S' ? 'Spatial average' : datum.value == 'I' ? 'Individual samples' : 'Weighted'"}},
    "strokeDash": {"field": "series", "type": "nominal", "scale": {"domain": ["S", "I", "W"], "range": [[1, 0], [2, 1.5], [1, 0]]}, "legend": {"title": "individual samples", "labelExpr": "datum.value == 'S' ? 'Spatial average' : datum.value == 'I' ? 'Individual samples' : 'Weighted'"}}}},
  {"data": {"name": "a_lines"}, "transform": [{"filter": "datum.series == 'I'"}], "mark": {"type": "line", "color": "black", "clip": true, "strokeMiterLimit": 3},
   "encoding": {
    "x": {"field": "time", "type": "quantitative", "axis": {"orient": "top", "values": [0, 50, 100, 150, 200], "tickSize": -7, "labels": false, "title": "Lowland – (16lo)", "titleFontSize": 19, "titleAnchor": "start", "titleAlign": "left", "titleBaseline": "alphabetic", "titleX": 30, "titlePadding": 15}},
    "y": {"field": "rate", "type": "quantitative", "axis": {"orient": "right", "values": [0, 20, 40, 60, 80, 100], "tickSize": -7, "labels": false, "title": null}},
    "strokeWidth": {"field": "series", "type": "nominal", "scale": {"type": "ordinal", "domain": ["S", "I", "W"], "range": [3.2, 1.1, 1.1]}, "legend": {"title": "individual samples", "labelExpr": "datum.value == 'S' ? 'Spatial average' : datum.value == 'I' ? 'Individual samples' : 'Weighted'"}},
    "strokeDash": {"field": "series", "type": "nominal", "scale": {"domain": ["S", "I", "W"], "range": [[1, 0], [2, 1.5], [1, 0]]}, "legend": {"title": "individual samples", "labelExpr": "datum.value == 'S' ? 'Spatial average' : datum.value == 'I' ? 'Individual samples' : 'Weighted'"}}}},
  {"data": {"name": "a_lines"}, "transform": [{"filter": "datum.series == 'S'"}], "mark": {"type": "line", "color": "black", "clip": true, "strokeMiterLimit": 3},
   "encoding": {
    "x": {"field": "time", "type": "quantitative", "axis": {"orient": "top", "values": [10, 20, 30, 40, 60, 70, 80, 90, 110, 120, 130, 140, 160, 170, 180, 190], "tickSize": -4, "labels": false, "domain": false, "title": "(a)", "titleFontSize": 21, "titleAnchor": "start", "titleAlign": "left", "titleBaseline": "alphabetic", "titleX": -78, "titlePadding": 13}},
    "y": {"field": "rate", "type": "quantitative", "axis": {"orient": "right", "values": [5, 10, 15, 25, 30, 35, 45, 50, 55, 65, 70, 75, 85, 90, 95], "tickSize": -4, "labels": false, "domain": false, "title": null}},
    "strokeWidth": {"field": "series", "type": "nominal", "scale": {"type": "ordinal", "domain": ["S", "I", "W"], "range": [3.2, 1.1, 1.1]}, "legend": {"title": "individual samples", "labelExpr": "datum.value == 'S' ? 'Spatial average' : datum.value == 'I' ? 'Individual samples' : 'Weighted'"}},
    "strokeDash": {"field": "series", "type": "nominal", "scale": {"domain": ["S", "I", "W"], "range": [[1, 0], [2, 1.5], [1, 0]]}, "legend": {"title": "individual samples", "labelExpr": "datum.value == 'S' ? 'Spatial average' : datum.value == 'I' ? 'Individual samples' : 'Weighted'"}}}},
  {"data": {"values": [{"time": 26.4, "rate": 89.3, "rate2": 96.5}]}, "mark": {"type": "rule", "color": "black", "strokeWidth": 1.3},
   "encoding": {"x": {"field": "time", "type": "quantitative", "axis": null}, "y": {"field": "rate", "type": "quantitative", "axis": null}, "y2": {"field": "rate2"}}},
  {"data": {"values": [{"time": 26.4, "rate": 97.3}]}, "mark": {"type": "point", "shape": "triangle-up", "filled": true, "color": "black", "size": 40, "opacity": 1},
   "encoding": {"x": {"field": "time", "type": "quantitative", "axis": null}, "y": {"field": "rate", "type": "quantitative", "axis": null}}},
  {"data": {"values": [{"time": 24.1, "rate": 84, "label": "140 m/m.y."}]}, "mark": {"type": "text", "align": "left", "baseline": "middle", "font": "Liberation Sans", "fontSize": 18, "fontWeight": "bold", "color": "black"},
   "encoding": {"x": {"field": "time", "type": "quantitative", "axis": null}, "y": {"field": "rate", "type": "quantitative", "axis": null}, "text": {"field": "label"}}}
 ]
},
{
 "width": 358, "height": 307,
 "resolve": {"axis": {"x": "independent", "y": "independent"}},
 "layer": [
  {"data": {"name": "c_band"}, "mark": {"type": "area", "color": "#d4d4d4"},
   "encoding": {
    "x": {"field": "time", "type": "quantitative", "scale": {"domain": [0, 200], "nice": false}, "axis": {"orient": "bottom", "values": [0, 50, 100, 150, 200], "tickSize": -7, "labelPadding": 9, "title": "Time (Ma)", "titlePadding": 9}},
    "y": {"field": "low", "type": "quantitative", "scale": {"domain": [0, 140], "nice": false}, "axis": {"orient": "left", "values": [0, 20, 40, 60, 80, 100, 120, 140], "tickSize": -7, "labelPadding": 12, "title": "Denudation rate (m/m.y.)", "titlePadding": 2}},
    "y2": {"field": "high"}}},
  {"data": {"name": "c_lines"}, "transform": [{"filter": "datum.series == 'W'"}], "mark": {"type": "line", "color": "black", "clip": true, "strokeMiterLimit": 3},
   "encoding": {
    "x": {"field": "time", "type": "quantitative", "axis": {"orient": "bottom", "values": [10, 20, 30, 40, 60, 70, 80, 90, 110, 120, 130, 140, 160, 170, 180, 190], "tickSize": -4, "labels": false, "domain": false, "title": null}},
    "y": {"field": "rate", "type": "quantitative", "axis": {"orient": "left", "values": [10, 30, 50, 70, 90, 110, 130], "tickSize": -4, "labels": false, "domain": false, "title": null}},
    "strokeWidth": {"field": "series", "type": "nominal", "scale": {"type": "ordinal", "domain": ["S", "I", "W"], "range": [3.2, 1.1, 1.1]}, "legend": {"title": "individual samples", "labelExpr": "datum.value == 'S' ? 'Spatial average' : datum.value == 'I' ? 'Individual samples' : 'Weighted'"}},
    "strokeDash": {"field": "series", "type": "nominal", "scale": {"domain": ["S", "I", "W"], "range": [[1, 0], [2, 1.5], [1, 0]]}, "legend": {"title": "individual samples", "labelExpr": "datum.value == 'S' ? 'Spatial average' : datum.value == 'I' ? 'Individual samples' : 'Weighted'"}}}},
  {"data": {"name": "c_lines"}, "transform": [{"filter": "datum.series == 'I'"}], "mark": {"type": "line", "color": "black", "clip": true, "strokeMiterLimit": 3},
   "encoding": {
    "x": {"field": "time", "type": "quantitative", "axis": {"orient": "top", "values": [0, 50, 100, 150, 200], "tickSize": -7, "labels": false, "title": "Lowland – (14lo)", "titleFontSize": 19, "titleAnchor": "start", "titleAlign": "left", "titleBaseline": "alphabetic", "titleX": 48, "titlePadding": 21}},
    "y": {"field": "rate", "type": "quantitative", "axis": {"orient": "right", "values": [0, 20, 40, 60, 80, 100, 120, 140], "tickSize": -7, "labels": false, "title": null}},
    "strokeWidth": {"field": "series", "type": "nominal", "scale": {"type": "ordinal", "domain": ["S", "I", "W"], "range": [3.2, 1.1, 1.1]}, "legend": {"title": "individual samples", "labelExpr": "datum.value == 'S' ? 'Spatial average' : datum.value == 'I' ? 'Individual samples' : 'Weighted'"}},
    "strokeDash": {"field": "series", "type": "nominal", "scale": {"domain": ["S", "I", "W"], "range": [[1, 0], [2, 1.5], [1, 0]]}, "legend": {"title": "individual samples", "labelExpr": "datum.value == 'S' ? 'Spatial average' : datum.value == 'I' ? 'Individual samples' : 'Weighted'"}}}},
  {"data": {"name": "c_lines"}, "transform": [{"filter": "datum.series == 'S'"}], "mark": {"type": "line", "color": "black", "clip": true, "strokeMiterLimit": 3},
   "encoding": {
    "x": {"field": "time", "type": "quantitative", "axis": {"orient": "top", "values": [10, 20, 30, 40, 60, 70, 80, 90, 110, 120, 130, 140, 160, 170, 180, 190], "tickSize": -4, "labels": false, "domain": false, "title": "(c)", "titleFontSize": 21, "titleAnchor": "start", "titleAlign": "left", "titleBaseline": "alphabetic", "titleX": -72, "titlePadding": 17}},
    "y": {"field": "rate", "type": "quantitative", "axis": {"orient": "right", "values": [10, 30, 50, 70, 90, 110, 130], "tickSize": -4, "labels": false, "domain": false, "title": null}},
    "strokeWidth": {"field": "series", "type": "nominal", "scale": {"type": "ordinal", "domain": ["S", "I", "W"], "range": [3.2, 1.1, 1.1]}, "legend": {"title": "individual samples", "labelExpr": "datum.value == 'S' ? 'Spatial average' : datum.value == 'I' ? 'Individual samples' : 'Weighted'"}},
    "strokeDash": {"field": "series", "type": "nominal", "scale": {"domain": ["S", "I", "W"], "range": [[1, 0], [2, 1.5], [1, 0]]}, "legend": {"title": "individual samples", "labelExpr": "datum.value == 'S' ? 'Spatial average' : datum.value == 'I' ? 'Individual samples' : 'Weighted'"}}}}
 ]
},
{
 "width": 362, "height": 307,
 "resolve": {"axis": {"x": "independent", "y": "independent"}},
 "layer": [
  {"data": {"name": "b_band"}, "mark": {"type": "area", "color": "#d4d4d4"},
   "encoding": {
    "x": {"field": "time", "type": "quantitative", "scale": {"domain": [0, 200], "nice": false}, "axis": {"orient": "bottom", "values": [0, 50, 100, 150, 200], "tickSize": -7, "labelPadding": 9, "title": "Time (Ma)", "titlePadding": 9}},
    "y": {"field": "low", "type": "quantitative", "scale": {"domain": [0, 100], "nice": false}, "axis": {"orient": "left", "values": [0, 20, 40, 60, 80, 100], "tickSize": -7, "labelPadding": 12, "title": "Denudation rate (m/m.y.)", "titlePadding": 2}},
    "y2": {"field": "high"}}},
  {"data": {"name": "b_lines"}, "transform": [{"filter": "datum.series == 'W'"}], "mark": {"type": "line", "color": "black", "clip": true, "strokeMiterLimit": 3},
   "encoding": {
    "x": {"field": "time", "type": "quantitative", "axis": {"orient": "bottom", "values": [10, 20, 30, 40, 60, 70, 80, 90, 110, 120, 130, 140, 160, 170, 180, 190], "tickSize": -4, "labels": false, "domain": false, "title": null}},
    "y": {"field": "rate", "type": "quantitative", "axis": {"orient": "left", "values": [5, 10, 15, 25, 30, 35, 45, 50, 55, 65, 70, 75, 85, 90, 95], "tickSize": -4, "labels": false, "domain": false, "title": null}},
    "strokeWidth": {"field": "series", "type": "nominal", "scale": {"type": "ordinal", "domain": ["S", "I", "W"], "range": [3.2, 1.1, 1.1]}, "legend": {"title": "individual samples", "labelExpr": "datum.value == 'S' ? 'Spatial average' : datum.value == 'I' ? 'Individual samples' : 'Weighted'"}},
    "strokeDash": {"field": "series", "type": "nominal", "scale": {"domain": ["S", "I", "W"], "range": [[1, 0], [2, 1.5], [1, 0]]}, "legend": {"title": "individual samples", "labelExpr": "datum.value == 'S' ? 'Spatial average' : datum.value == 'I' ? 'Individual samples' : 'Weighted'"}}}},
  {"data": {"name": "b_lines"}, "transform": [{"filter": "datum.series == 'I'"}], "mark": {"type": "line", "color": "black", "clip": true, "strokeMiterLimit": 3},
   "encoding": {
    "x": {"field": "time", "type": "quantitative", "axis": {"orient": "top", "values": [0, 50, 100, 150, 200], "tickSize": -7, "labels": false, "title": "Upland – (16up)", "titleFontSize": 19, "titleAnchor": "start", "titleAlign": "left", "titleBaseline": "alphabetic", "titleX": 30, "titlePadding": 20}},
    "y": {"field": "rate", "type": "quantitative", "axis": {"orient": "right", "values": [0, 20, 40, 60, 80, 100], "tickSize": -7, "labels": false, "title": null}},
    "strokeWidth": {"field": "series", "type": "nominal", "scale": {"type": "ordinal", "domain": ["S", "I", "W"], "range": [3.2, 1.1, 1.1]}, "legend": {"title": "individual samples", "labelExpr": "datum.value == 'S' ? 'Spatial average' : datum.value == 'I' ? 'Individual samples' : 'Weighted'"}},
    "strokeDash": {"field": "series", "type": "nominal", "scale": {"domain": ["S", "I", "W"], "range": [[1, 0], [2, 1.5], [1, 0]]}, "legend": {"title": "individual samples", "labelExpr": "datum.value == 'S' ? 'Spatial average' : datum.value == 'I' ? 'Individual samples' : 'Weighted'"}}}},
  {"data": {"name": "b_lines"}, "transform": [{"filter": "datum.series == 'S'"}], "mark": {"type": "line", "color": "black", "clip": true, "strokeMiterLimit": 3},
   "encoding": {
    "x": {"field": "time", "type": "quantitative", "axis": {"orient": "top", "values": [10, 20, 30, 40, 60, 70, 80, 90, 110, 120, 130, 140, 160, 170, 180, 190], "tickSize": -4, "labels": false, "domain": false, "title": "(b)", "titleFontSize": 21, "titleAnchor": "start", "titleAlign": "left", "titleBaseline": "alphabetic", "titleX": -75, "titlePadding": 22}},
    "y": {"field": "rate", "type": "quantitative", "axis": {"orient": "right", "values": [5, 10, 15, 25, 30, 35, 45, 50, 55, 65, 70, 75, 85, 90, 95], "tickSize": -4, "labels": false, "domain": false, "title": null}},
    "strokeWidth": {"field": "series", "type": "nominal", "scale": {"type": "ordinal", "domain": ["S", "I", "W"], "range": [3.2, 1.1, 1.1]}, "legend": {"title": "individual samples", "labelExpr": "datum.value == 'S' ? 'Spatial average' : datum.value == 'I' ? 'Individual samples' : 'Weighted'"}},
    "strokeDash": {"field": "series", "type": "nominal", "scale": {"domain": ["S", "I", "W"], "range": [[1, 0], [2, 1.5], [1, 0]]}, "legend": {"title": "individual samples", "labelExpr": "datum.value == 'S' ? 'Spatial average' : datum.value == 'I' ? 'Individual samples' : 'Weighted'"}}}},
  {"data": {"values": [{"time": 28.7, "rate": 87.7, "rate2": 94.5}]}, "mark": {"type": "rule", "color": "black", "strokeWidth": 1.3},
   "encoding": {"x": {"field": "time", "type": "quantitative", "axis": null}, "y": {"field": "rate", "type": "quantitative", "axis": null}, "y2": {"field": "rate2"}}},
  {"data": {"values": [{"time": 28.7, "rate": 95.2}]}, "mark": {"type": "point", "shape": "triangle-up", "filled": true, "color": "black", "size": 40, "opacity": 1},
   "encoding": {"x": {"field": "time", "type": "quantitative", "axis": null}, "y": {"field": "rate", "type": "quantitative", "axis": null}}},
  {"data": {"values": [{"time": 27.7, "rate": 82.2, "label": "120 m/m.y."}]}, "mark": {"type": "text", "align": "left", "baseline": "middle", "font": "Liberation Sans", "fontSize": 18, "fontWeight": "bold", "color": "black"},
   "encoding": {"x": {"field": "time", "type": "quantitative", "axis": null}, "y": {"field": "rate", "type": "quantitative", "axis": null}, "text": {"field": "label"}}}
 ]
},
{
 "width": 358, "height": 307,
 "resolve": {"axis": {"x": "independent", "y": "independent"}},
 "layer": [
  {"data": {"name": "d_band"}, "mark": {"type": "area", "color": "#d4d4d4"},
   "encoding": {
    "x": {"field": "time", "type": "quantitative", "scale": {"domain": [0, 200], "nice": false}, "axis": {"orient": "bottom", "values": [0, 50, 100, 150, 200], "tickSize": -7, "labelPadding": 9, "title": "Time (Ma)", "titlePadding": 9}},
    "y": {"field": "low", "type": "quantitative", "scale": {"domain": [0, 140], "nice": false}, "axis": {"orient": "left", "values": [0, 20, 40, 60, 80, 100, 120, 140], "tickSize": -7, "labelPadding": 12, "title": "Denudation rate (m/m.y.)", "titlePadding": 2}},
    "y2": {"field": "high"}}},
  {"data": {"name": "d_lines"}, "transform": [{"filter": "datum.series == 'W'"}], "mark": {"type": "line", "color": "black", "clip": true, "strokeMiterLimit": 3},
   "encoding": {
    "x": {"field": "time", "type": "quantitative", "axis": {"orient": "bottom", "values": [10, 20, 30, 40, 60, 70, 80, 90, 110, 120, 130, 140, 160, 170, 180, 190], "tickSize": -4, "labels": false, "domain": false, "title": null}},
    "y": {"field": "rate", "type": "quantitative", "axis": {"orient": "left", "values": [10, 30, 50, 70, 90, 110, 130], "tickSize": -4, "labels": false, "domain": false, "title": null}},
    "strokeWidth": {"field": "series", "type": "nominal", "scale": {"type": "ordinal", "domain": ["S", "I", "W"], "range": [3.2, 1.1, 1.1]}, "legend": {"title": "individual samples", "labelExpr": "datum.value == 'S' ? 'Spatial average' : datum.value == 'I' ? 'Individual samples' : 'Weighted'"}},
    "strokeDash": {"field": "series", "type": "nominal", "scale": {"domain": ["S", "I", "W"], "range": [[1, 0], [2, 1.5], [1, 0]]}, "legend": {"title": "individual samples", "labelExpr": "datum.value == 'S' ? 'Spatial average' : datum.value == 'I' ? 'Individual samples' : 'Weighted'"}}}},
  {"data": {"name": "d_lines"}, "transform": [{"filter": "datum.series == 'I'"}], "mark": {"type": "line", "color": "black", "clip": true, "strokeMiterLimit": 3},
   "encoding": {
    "x": {"field": "time", "type": "quantitative", "axis": {"orient": "top", "values": [0, 50, 100, 150, 200], "tickSize": -7, "labels": false, "title": "Upland – (14up)", "titleFontSize": 19, "titleAnchor": "start", "titleAlign": "left", "titleBaseline": "alphabetic", "titleX": 49, "titlePadding": 18}},
    "y": {"field": "rate", "type": "quantitative", "axis": {"orient": "right", "values": [0, 20, 40, 60, 80, 100, 120, 140], "tickSize": -7, "labels": false, "title": null}},
    "strokeWidth": {"field": "series", "type": "nominal", "scale": {"type": "ordinal", "domain": ["S", "I", "W"], "range": [3.2, 1.1, 1.1]}, "legend": {"title": "individual samples", "labelExpr": "datum.value == 'S' ? 'Spatial average' : datum.value == 'I' ? 'Individual samples' : 'Weighted'"}},
    "strokeDash": {"field": "series", "type": "nominal", "scale": {"domain": ["S", "I", "W"], "range": [[1, 0], [2, 1.5], [1, 0]]}, "legend": {"title": "individual samples", "labelExpr": "datum.value == 'S' ? 'Spatial average' : datum.value == 'I' ? 'Individual samples' : 'Weighted'"}}}},
  {"data": {"name": "d_lines"}, "transform": [{"filter": "datum.series == 'S'"}], "mark": {"type": "line", "color": "black", "clip": true, "strokeMiterLimit": 3},
   "encoding": {
    "x": {"field": "time", "type": "quantitative", "axis": {"orient": "top", "values": [10, 20, 30, 40, 60, 70, 80, 90, 110, 120, 130, 140, 160, 170, 180, 190], "tickSize": -4, "labels": false, "domain": false, "title": "(d)", "titleFontSize": 21, "titleAnchor": "start", "titleAlign": "left", "titleBaseline": "alphabetic", "titleX": -69, "titlePadding": 23}},
    "y": {"field": "rate", "type": "quantitative", "axis": {"orient": "right", "values": [10, 30, 50, 70, 90, 110, 130], "tickSize": -4, "labels": false, "domain": false, "title": null}},
    "strokeWidth": {"field": "series", "type": "nominal", "scale": {"type": "ordinal", "domain": ["S", "I", "W"], "range": [3.2, 1.1, 1.1]}, "legend": {"title": "individual samples", "labelExpr": "datum.value == 'S' ? 'Spatial average' : datum.value == 'I' ? 'Individual samples' : 'Weighted'"}},
    "strokeDash": {"field": "series", "type": "nominal", "scale": {"domain": ["S", "I", "W"], "range": [[1, 0], [2, 1.5], [1, 0]]}, "legend": {"title": "individual samples", "labelExpr": "datum.value == 'S' ? 'Spatial average' : datum.value == 'I' ? 'Individual samples' : 'Weighted'"}}}}
 ]
}
]
}
